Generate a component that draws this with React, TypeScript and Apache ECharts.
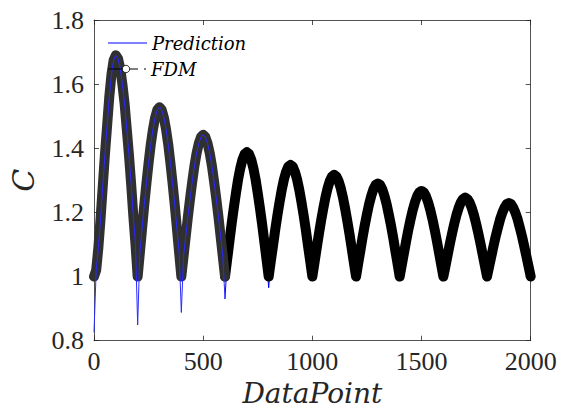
import React, { useEffect, useRef } from "react";
import * as echarts from "echarts";

// Sampling step of the read values along the DataPoint axis
const dataPointStep = 10;

// FDM values, one row per 200-point cycle (x = 0, 10, 20, ...)
const fdmValues: number[] = [
  1.00, 1.02, 1.09, 1.18, 1.28, 1.38, 1.47, 1.56, 1.63, 1.675, 1.69, 1.68, 1.65, 1.60, 1.54, 1.46, 1.38, 1.29, 1.19, 1.10,
  1.00, 1.074, 1.148, 1.222, 1.290, 1.354, 1.412, 1.459, 1.496, 1.520, 1.528, 1.520, 1.496, 1.459, 1.412, 1.354, 1.290, 1.222, 1.148, 1.074,
  1.00, 1.062, 1.124, 1.186, 1.243, 1.296, 1.345, 1.385, 1.415, 1.435, 1.442, 1.435, 1.415, 1.385, 1.345, 1.296, 1.243, 1.186, 1.124, 1.062,
  1.00, 1.054, 1.109, 1.163, 1.213, 1.260, 1.303, 1.338, 1.365, 1.382, 1.388, 1.382, 1.365, 1.338, 1.303, 1.260, 1.213, 1.163, 1.109, 1.054,
  1.00, 1.049, 1.097, 1.146, 1.191, 1.233, 1.271, 1.303, 1.327, 1.343, 1.348, 1.343, 1.327, 1.303, 1.271, 1.233, 1.191, 1.146, 1.097, 1.049,
  1.00, 1.044, 1.089, 1.133, 1.174, 1.212, 1.247, 1.276, 1.298, 1.312, 1.317, 1.312, 1.298, 1.276, 1.247, 1.212, 1.174, 1.133, 1.089, 1.044,
  1.00, 1.041, 1.081, 1.122, 1.160, 1.194, 1.226, 1.252, 1.273, 1.286, 1.290, 1.286, 1.273, 1.252, 1.226, 1.194, 1.160, 1.122, 1.081, 1.041,
  1.00, 1.037, 1.075, 1.112, 1.147, 1.179, 1.208, 1.232, 1.251, 1.263, 1.267, 1.263, 1.251, 1.232, 1.208, 1.179, 1.147, 1.112, 1.075, 1.037,
  1.00, 1.034, 1.069, 1.103, 1.135, 1.165, 1.192, 1.214, 1.231, 1.242, 1.246, 1.242, 1.231, 1.214, 1.192, 1.165, 1.135, 1.103, 1.069, 1.034,
  1.00, 1.032, 1.064, 1.096, 1.126, 1.153, 1.179, 1.199, 1.215, 1.226, 1.229, 1.226, 1.215, 1.199, 1.179, 1.153, 1.126, 1.096, 1.064, 1.032,
  1.00,
];

// Prediction follows FDM except for the dips at the troughs
const predictionDipPoints = [0, 200, 400, 600, 800];
const predictionDipValues = [0.826, 0.849, 0.888, 0.930, 0.965];

const xTicks = [0, 500, 1000, 1500, 2000];
const yTicks = [0.8, 1, 1.2, 1.4, 1.6, 1.8];

const xMin = xTicks[0];
const xMax = xTicks[xTicks.length - 1];
const yMin = yTicks[0];
const yMax = yTicks[yTicks.length - 1];

export default function App() {
  const ref = useRef<HTMLDivElement>(null);

  useEffect(() => {
    if (!ref.current) return;
    const chart = echarts.init(ref.current, undefined, { renderer: "svg" });

    const fdm = fdmValues.map((v, i) => [i * dataPointStep, v]);
    const prediction = fdmValues.map((v, i) => {
      const x = i * dataPointStep;
      const k = predictionDipPoints.indexOf(x);
      return [x, k >= 0 ? predictionDipValues[k] : v];
    });
    const split = 600;
    const predFront = prediction.filter((p) => p[0] <= split);
    const predBack = prediction.filter((p) => p[0] >= split);
    const fdmEarly = fdm.filter((p) => p[0] <= split);
    const fdmLate = fdm.filter((p) => p[0] >= split);

    const axisColor = "#262626";
    const tickFont = "Liberation Serif";
    const mathFont = "DejaVu Serif";

    const baseX = {
      type: "value" as const,
      min: xMin,
      max: xMax,
      interval: 500,
      splitLine: { show: false },
      axisLine: { show: true, onZero: false, lineStyle: { color: axisColor, width: 0.8 } },
      axisTick: { show: true, inside: true, length: 5, lineStyle: { color: axisColor, width: 0.8 } },
    };
    const baseY = {
      type: "value" as const,
      min: yMin,
      max: yMax,
      interval: 0.2,
      splitLine: { show: false },
      axisLine: { show: true, onZero: false, lineStyle: { color: axisColor, width: 0.8 } },
      axisTick: { show: true, inside: true, length: 5, lineStyle: { color: axisColor, width: 0.8 } },
    };

    chart.setOption({
      animation: false,
      backgroundColor: "#ffffff",
      grid: { left: 92.3, right: 30.3, top: 20, bottom: 73.3, containLabel: false },
      xAxis: [
        {
          ...baseX,
          position: "bottom",
          axisLabel: {
            show: true,
            margin: 8,
            fontFamily: tickFont,
            fontSize: 26,
            color: axisColor,
            formatter: (v: number) => String(v),
          },
          name: "DataPoint",
          nameLocation: "middle",
          nameGap: 38,
          nameTextStyle: {
            fontFamily: mathFont,
            fontStyle: "italic",
            fontSize: 28,
            color: axisColor,
          },
        },
        { ...baseX, position: "top", axisLabel: { show: false } },
      ],
      yAxis: [
        {
          ...baseY,
          position: "left",
          axisLabel: {
            show: true,
            margin: 10,
            fontFamily: tickFont,
            fontSize: 26,
            color: axisColor,
            formatter: (v: number) => String(Math.round(v * 10) / 10),
          },
          name: "C",
          nameLocation: "middle",
          nameGap: 56,
          nameTextStyle: {
            fontFamily: mathFont,
            fontStyle: "italic",
            fontSize: 30,
            color: axisColor,
          },
        },
        { ...baseY, position: "right", axisLabel: { show: false } },
      ],
      series: [
        {
          name: "PredictionBack",
          type: "line",
          data: predBack,
          symbol: "none",
          clip: false,
          silent: true,
          z: 1,
          lineStyle: { color: "#0000ff", width: 1 },
        },
        {
          name: "FDM",
          type: "line",
          data: fdmLate,
          symbol: "none",
          clip: false,
          silent: true,
          z: 2,
          lineStyle: { color: "#000000", width: 10, cap: "round", join: "round" },
        },
        {
          name: "FDMEarly",
          type: "line",
          data: fdmEarly,
          symbol: "none",
          clip: false,
          silent: true,
          z: 3,
          lineStyle: { color: "#303030", width: 10, cap: "round", join: "round" },
        },
        {
          name: "Prediction",
          type: "line",
          data: predFront,
          symbol: "none",
          clip: false,
          silent: true,
          z: 4,
          lineStyle: { color: "#2a2aff", width: 1 },
        },
      ],
      graphic: [
        {
          type: "line",
          z: 100,
          shape: { x1: 108, y1: 43, x2: 147, y2: 43 },
          style: { stroke: "#0000ff", lineWidth: 1 },
        },
        {
          type: "text",
          z: 100,
          x: 152,
          y: 43,
          style: {
            text: "Prediction",
            fontFamily: mathFont,
            fontStyle: "italic",
            fontSize: 18,
            fill: "#000000",
            verticalAlign: "middle",
          },
        },
        {
          type: "line",
          z: 100,
          shape: { x1: 108, y1: 69, x2: 122, y2: 69 },
          style: { stroke: "#000000", lineWidth: 1 },
        },
        {
          type: "circle",
          z: 100,
          shape: { cx: 126, cy: 69, r: 3.7 },
          style: { stroke: "#000000", fill: "#ffffff", lineWidth: 0.8 },
        },
        {
          type: "line",
          z: 100,
          shape: { x1: 129.7, y1: 69, x2: 138, y2: 69 },
          style: { stroke: "#000000", lineWidth: 1 },
        },
        {
          type: "line",
          z: 100,
          shape: { x1: 144, y1: 69, x2: 146, y2: 69 },
          style: { stroke: "#000000", lineWidth: 1 },
        },
        {
          type: "text",
          z: 100,
          x: 151,
          y: 69,
          style: {
            text: "FDM",
            fontFamily: mathFont,
            fontStyle: "italic",
            fontSize: 18,
            fill: "#000000",
            verticalAlign: "middle",
          },
        },
      ],
    });

    return () => chart.dispose();
  }, []);

  return (
    <div
      ref={ref}
      style={{ position: "fixed", left: 0, top: 0, width: 561, height: 414, background: "#fff" }}
    />
  );
}
